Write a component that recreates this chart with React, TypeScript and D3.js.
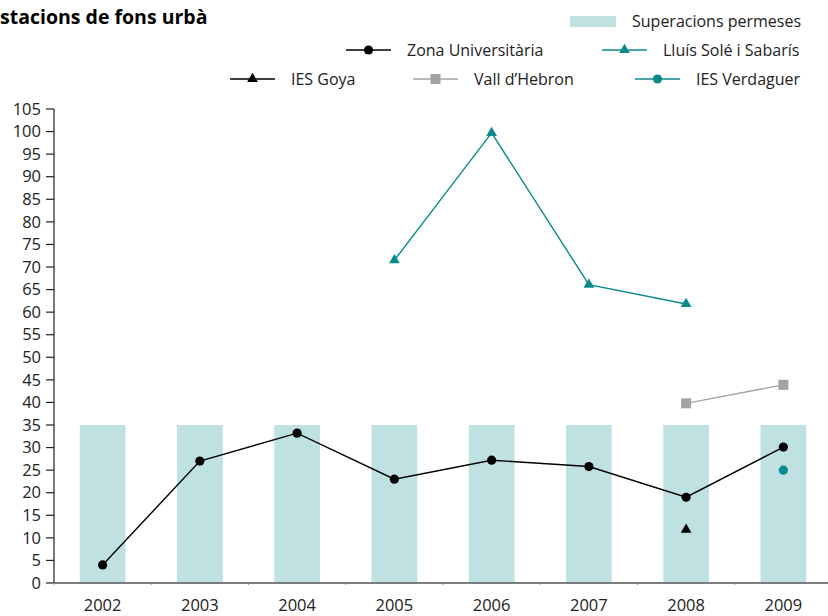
import React from "react";
import * as d3 from "d3";

const years = ["2002", "2003", "2004", "2005", "2006", "2007", "2008", "2009"];
const allowed = [35, 35, 35, 35, 35, 35, 35, 35];
const zonaUniv: (number | null)[] = [4, 27, 33.2, 23, 27.2, 25.8, 19, 30.1];
const lluisSole: (number | null)[] = [null, null, null, 71.5, 99.7, 66.1, 61.8, null];
const iesGoya: (number | null)[] = [null, null, null, null, null, null, 11.8, null];
const vallHebron: (number | null)[] = [null, null, null, null, null, null, 39.8, 43.9];
const iesVerdaguer: (number | null)[] = [null, null, null, null, null, null, null, 25];
const yTicks = d3.range(0, 106, 5);

const TEAL = "#0a8a8c";
const BAR = "#c0e1e2";
const GRAY = "#a3a3a3";
const FONT = "'Open Sans', 'Noto Sans', sans-serif";

type Marker = "circle" | "triangle" | "square";

function MarkerShape({ type, x, y, color }: { type: Marker; x: number; y: number; color: string }) {
  if (type === "circle") return <circle cx={x} cy={y} r={4.6} fill={color} />;
  if (type === "square") return <rect x={x - 5} y={y - 5} width={10} height={10} fill={color} />;
  const p = d3.symbol().type(d3.symbolTriangle).size(50)();
  return <path d={p || ""} transform={`translate(${x},${y})`} fill={color} />;
}

export default function App() {
  const W = 828, H = 616;
  const x = d3.scaleBand<string>().domain(years).range([54, 832]).padding(0);
  const y = d3.scaleLinear().domain([0, 105]).range([583, 109]);
  const cx = (yr: string) => (x(yr) as number) + x.bandwidth() / 2;
  const barW = x.bandwidth() * 0.47;

  const series: { name: string; data: (number | null)[]; color: string; marker: Marker }[] = [
    { name: "Zona Universitària", data: zonaUniv, color: "#000", marker: "circle" },
    { name: "Lluís Solé i Sabarís", data: lluisSole, color: TEAL, marker: "triangle" },
    { name: "IES Goya", data: iesGoya, color: "#000", marker: "triangle" },
    { name: "Vall d’Hebron", data: vallHebron, color: GRAY, marker: "square" },
    { name: "IES Verdaguer", data: iesVerdaguer, color: TEAL, marker: "circle" },
  ];

  const lineGen = d3
    .line<number | null>()
    .defined((d) => d !== null)
    .x((_, i) => cx(years[i]))
    .y((d) => y(d as number));

  const legendItems = [
    { s: series[0], lx: 346, tx: 407, ly: 50 },
    { s: series[1], lx: 602, tx: 663, ly: 50 },
    { s: series[2], lx: 230, tx: 291, ly: 79 },
    { s: series[3], lx: 413, tx: 474, ly: 79 },
    { s: series[4], lx: 635, tx: 696, ly: 79 },
  ];

  return (
    <div style={{ position: "absolute", left: 0, top: 0 }}>
      <svg width={W} height={H} style={{ display: "block", fontFamily: FONT }}>
        <rect width={W} height={H} fill="#fff" />
        <text x={0} y={24} fontSize={19.5} fontWeight={700} fill="#000">
          stacions de fons urbà
        </text>

        {years.map((yr, i) => (
          <rect
            key={yr}
            x={cx(yr) - barW / 2}
            y={y(allowed[i])}
            width={barW}
            height={y(0) - y(allowed[i])}
            fill={BAR}
          />
        ))}

        <line x1={54} x2={54} y1={y(105)} y2={y(0)} stroke="#222" strokeWidth={1.2} />
        {yTicks.map((t) => (
          <g key={t}>
            <line x1={46} x2={54} y1={y(t)} y2={y(t)} stroke="#222" strokeWidth={1.2} />
            <text x={41} y={y(t)} dy="0.35em" textAnchor="end" fontSize={16.5} fill="#222">
              {t}
            </text>
          </g>
        ))}

        <line x1={54} x2={W} y1={y(0)} y2={y(0)} stroke="#555" strokeWidth={1.6} />
        {years.map((yr) => (
          <line key={"t" + yr} x1={x(yr) as number} x2={x(yr) as number} y1={y(0)} y2={y(0) + 2} stroke="#999" strokeWidth={1} />
        ))}
        {years.map((yr) => (
          <text key={"l" + yr} x={cx(yr)} y={611} textAnchor="middle" fontSize={16.5} fill="#222">
            {yr}
          </text>
        ))}

        {series.map((s) => (
          <g key={s.name}>
            <path d={lineGen(s.data) || ""} fill="none" stroke={s.color} strokeWidth={1.4} />
            {s.data.map((v, i) =>
              v === null ? null : <MarkerShape key={i} type={s.marker} x={cx(years[i])} y={y(v)} color={s.color} />
            )}
          </g>
        ))}

        <rect x={570} y={16} width={46} height={11} fill={BAR} />
        <text x={632} y={21} dy="0.35em" fontSize={16} fill="#222">
          Superacions permeses
        </text>
        {legendItems.map(({ s, lx, tx, ly }) => (
          <g key={"lg" + s.name}>
            <line x1={lx} x2={lx + 45} y1={ly} y2={ly} stroke={s.color} strokeWidth={1.4} />
            <MarkerShape type={s.marker} x={lx + 22.5} y={ly} color={s.color} />
            <text x={tx} y={ly} dy="0.35em" fontSize={16} fill="#222">
              {s.name}
            </text>
          </g>
        ))}
      </svg>
    </div>
  );
}
